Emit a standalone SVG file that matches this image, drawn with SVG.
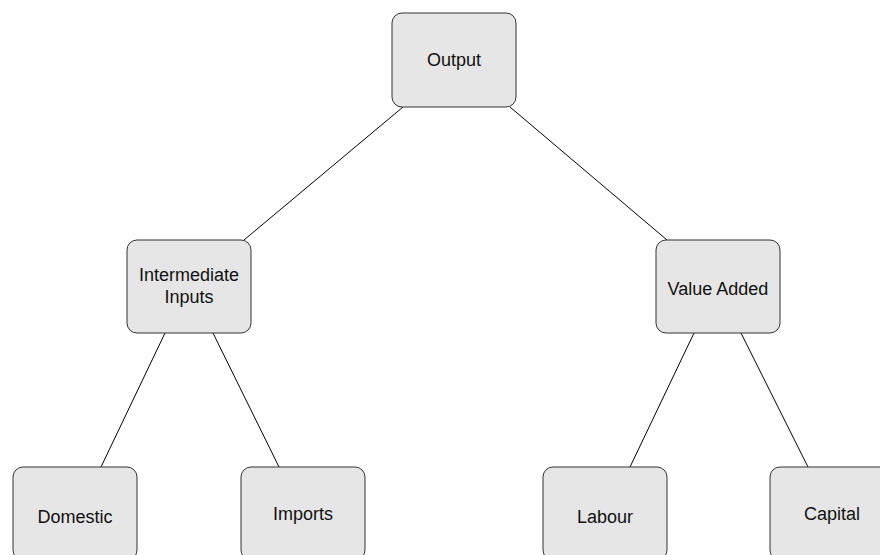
<svg xmlns="http://www.w3.org/2000/svg" width="880" height="555" viewBox="0 0 880 555">
  <style>
    .box { fill: #e6e6e6; stroke: #333333; stroke-width: 1; }
    .lbl { font-family: "Liberation Sans", Arial, sans-serif; font-size: 18px; fill: #111111; text-anchor: middle; }
    .edge { stroke: #000000; stroke-width: 1; fill: none; }
  </style>
  <rect width="880" height="555" fill="#ffffff"/>
  <g id="connectors">
    <line class="edge" x1="403" y1="107" x2="244" y2="240"/>
    <line class="edge" x1="510" y1="107" x2="667" y2="240"/>
    <line class="edge" x1="165" y1="333" x2="101" y2="467"/>
    <line class="edge" x1="213" y1="333" x2="279" y2="467"/>
    <line class="edge" x1="694" y1="333" x2="630" y2="467"/>
    <line class="edge" x1="741" y1="333" x2="808" y2="467"/>
  </g>
  <g id="output">
    <rect class="box" x="392" y="13" width="124" height="94" rx="10"/>
    <text class="lbl" x="454" y="66">Output</text>
  </g>
  <g id="intermediate-inputs">
    <rect class="box" x="127" y="240" width="124" height="93" rx="10"/>
    <text class="lbl" x="189" y="281">Intermediate</text>
    <text class="lbl" x="189" y="303">Inputs</text>
  </g>
  <g id="value-added">
    <rect class="box" x="656" y="240" width="124" height="93" rx="10"/>
    <text class="lbl" x="718" y="295">Value Added</text>
  </g>
  <g id="domestic">
    <rect class="box" x="13" y="467" width="124" height="93" rx="10"/>
    <text class="lbl" x="75" y="523">Domestic</text>
  </g>
  <g id="imports">
    <rect class="box" x="241" y="467" width="124" height="93" rx="10"/>
    <text class="lbl" x="303" y="520">Imports</text>
  </g>
  <g id="labour">
    <rect class="box" x="543" y="467" width="124" height="93" rx="10"/>
    <text class="lbl" x="605" y="523">Labour</text>
  </g>
  <g id="capital">
    <rect class="box" x="770" y="467" width="124" height="93" rx="10"/>
    <text class="lbl" x="832" y="520">Capital</text>
  </g>
</svg>
